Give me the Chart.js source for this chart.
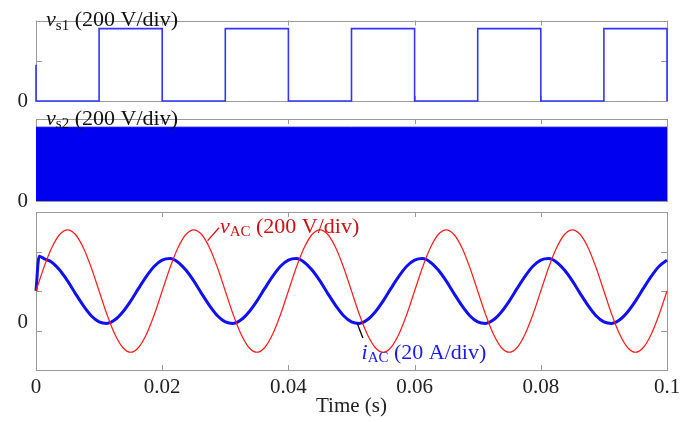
<!DOCTYPE html>
<html lang="en">
<head>
<meta charset="UTF-8">
<title>Converter waveforms</title>
<script src="https://cdn.jsdelivr.net/npm/chart.js"></script>
<style>
body { margin: 0; background: #fff; }
.wrap { position: relative; width: 686px; height: 422px; }
.wrap canvas { position: absolute; left: 0; top: 0; }
</style>
</head>
<body>
<div class="wrap">
    <canvas id="vs1Chart" width="686" height="422"></canvas>
    <canvas id="vs2Chart" width="686" height="422"></canvas>
    <canvas id="acChart" width="686" height="422"></canvas>
</div>
<script>
// ---- data ----
const timeTicks = [0, 0.02, 0.04, 0.06, 0.08, 0.1];
const voltTicks = [0, 200, 400];            // 200 V/div, panels 1 and 2
const acVoltTicks = [-200, 0, 200, 400, 600]; // panel 3

// vs1: square wave, 0 / 360 V
const vs1Times  = [0, 0, 0.01, 0.01, 0.02, 0.02, 0.03, 0.03, 0.04, 0.04, 0.05, 0.05, 0.06, 0.06, 0.07, 0.07, 0.08, 0.08, 0.09, 0.09, 0.1, 0.1];
const vs1Values = [180, 0, 0, 360, 360, 0, 0, 360, 360, 0, 0, 360, 360, 0, 0, 360, 360, 0, 0, 360, 360, 0];

// vs2: fast switching, envelope 0..360 V (looks solid)
const vs2Times  = [0, 0.1];
const vs2Values = [360, 360];

// vAC (V) sampled every 1.25 ms
const acStep = 0.00125;
const vacValues = [
    200, 319, 419, 486, 510, 486, 419, 319, 200, 81, -19, -86, -110, -86, -19, 81,
    200, 319, 419, 486, 510, 486, 419, 319, 200, 81, -19, -86, -110, -86, -19, 81,
    200, 319, 419, 486, 510, 486, 419, 319, 200, 81, -19, -86, -110, -86, -19, 81,
    200, 319, 419, 486, 510, 486, 419, 319, 200, 81, -19, -86, -110, -86, -19, 81,
    200, 319, 419, 486, 510, 486, 419, 319, 200, 81, -19, -86, -110, -86, -19, 81,
    200
];

// iAC (A): start transient then same 1.25 ms samples
const iacStartTimes  = [0, 0.0005];
const iacStartValues = [20, 37.6];
const iacValues = [
    36.4, 34.6, 30.6, 25.1, 18.7, 12.6, 7.5, 4.4, 3.6, 5.4, 9.4, 14.9, 21.3, 27.4, 32.5, 35.6,
    36.4, 34.6, 30.6, 25.1, 18.7, 12.6, 7.5, 4.4, 3.6, 5.4, 9.4, 14.9, 21.3, 27.4, 32.5, 35.6,
    36.4, 34.6, 30.6, 25.1, 18.7, 12.6, 7.5, 4.4, 3.6, 5.4, 9.4, 14.9, 21.3, 27.4, 32.5, 35.6,
    36.4, 34.6, 30.6, 25.1, 18.7, 12.6, 7.5, 4.4, 3.6, 5.4, 9.4, 14.9, 21.3, 27.4, 32.5, 35.6,
    36.4, 34.6, 30.6, 25.1, 18.7, 12.6, 7.5, 4.4, 3.6, 5.4, 9.4, 14.9, 21.3, 27.4, 32.5, 35.6
];

// ---- build point lists ----
function toPoints(xs, ys) {
    return ys.map((y, i) => ({ x: xs[i], y: y }));
}
const vacPoints = vacValues.map((v, i) => ({ x: i * acStep, y: v }));
const iacPoints = toPoints(iacStartTimes, iacStartValues)
    .concat(iacValues.map((v, i) => ({ x: (i + 1) * acStep, y: v })));

const SERIF = '"Liberation Serif", "Times New Roman", serif';
const W = 686, H = 422;
const PLOT_RIGHT = 19; // space right of the boxes

// frame + inward ticks (matlab style box)
const framePlugin = {
    id: 'frame',
    beforeDatasetsDraw(chart) {
        const ctx = chart.ctx, a = chart.chartArea;
        const x = chart.scales.x, y = chart.scales.y;
        const yt = chart.options.plugins.frame.yTicks;
        ctx.save();
        ctx.strokeStyle = '#9a9a9a';
        ctx.lineWidth = 1;
        ctx.strokeRect(Math.round(a.left) + 0.5, Math.round(a.top) + 0.5, Math.round(a.width), Math.round(a.height));
        ctx.beginPath();
        timeTicks.forEach(t => {
            const px = Math.round(x.getPixelForValue(t)) + 0.5;
            ctx.moveTo(px, a.bottom); ctx.lineTo(px, a.bottom - 5);
            ctx.moveTo(px, a.top); ctx.lineTo(px, a.top + 5);
        });
        yt.forEach(v => {
            const py = Math.round(y.getPixelForValue(v)) + 0.5;
            ctx.moveTo(a.left, py); ctx.lineTo(a.left + 6, py);
            ctx.moveTo(a.right, py); ctx.lineTo(a.right - 6, py);
        });
        ctx.stroke();
        ctx.restore();
    },
    afterDatasetsDraw(chart) {
        const ctx = chart.ctx;
        const opts = chart.options.plugins.frame;
        ctx.save();
        (opts.leaders || []).forEach(l => {
            const sx = chart.scales.x, sy = chart.scales[l.axis];
            ctx.strokeStyle = l.color;
            ctx.lineWidth = 1.3;
            ctx.beginPath();
            ctx.moveTo(sx.getPixelForValue(l.from[0]), sy.getPixelForValue(l.from[1]));
            ctx.lineTo(sx.getPixelForValue(l.to[0]), sy.getPixelForValue(l.to[1]));
            ctx.stroke();
        });
        (opts.labels || []).forEach(lab => {
            const sx = chart.scales.x, sy = chart.scales[lab.axis];
            let px = sx.getPixelForValue(lab.at[0]);
            const py = sy.getPixelForValue(lab.at[1]);
            ctx.fillStyle = lab.color;
            ctx.textBaseline = 'middle';
            ctx.textAlign = 'left';
            lab.parts.forEach(p => {
                ctx.font = p.font;
                ctx.fillText(p.text, px, py + (p.dy || 0));
                px += ctx.measureText(p.text).width;
            });
        });
        ctx.restore();
    }
};

function titleParts(main, sub, rest) {
    return [
        { text: main, font: 'italic 22px ' + SERIF },
        { text: sub, font: '15px ' + SERIF, dy: 5 },
        { text: rest, font: '22px ' + SERIF }
    ];
}

function zeroOnly(v) {
    return v === 0 ? '0' : '';
}

function yAxis(min, max, labelOffset) {
    return {
        min: min, max: max,
        afterBuildTicks: s => { s.ticks = [min, 0, max].concat([]).filter((v, i, arr) => arr.indexOf(v) === i).map(v => ({ value: v })); },
        afterFit: s => { s.width = 36; },
        grid: { display: false, drawTicks: false },
        border: { display: false },
        ticks: { callback: zeroOnly, padding: 8, labelOffset: labelOffset || 0, color: '#222', font: { family: SERIF, size: 21 } }
    };
}

function hiddenX() {
    return { type: 'linear', min: 0, max: 0.1, display: false };
}

// ---- panel 1 : vs1 ----
new Chart(document.getElementById('vs1Chart'), {
    type: 'line',
    data: {
        datasets: [{
            data: toPoints(vs1Times, vs1Values),
            borderColor: '#3434ff',
            borderWidth: 1.6,
            pointRadius: 0,
            tension: 0,
            clip: 4
        }]
    },
    options: {
        responsive: false, animation: false, devicePixelRatio: 1,
        layout: { padding: { top: 18, bottom: H - 101, right: PLOT_RIGHT, left: 0 } },
        scales: { x: hiddenX(), y: yAxis(0, 400) },
        plugins: {
            legend: { display: false }, tooltip: { enabled: false },
            frame: {
                yTicks: voltTicks,
                labels: [{ axis: 'y', at: [0.0016, 400], color: '#111', parts: titleParts('v', 's1', ' (200 V/div)') }]
            }
        }
    },
    plugins: [framePlugin]
});

// ---- panel 2 : vs2 ----
new Chart(document.getElementById('vs2Chart'), {
    type: 'line',
    data: {
        datasets: [{
            data: toPoints(vs2Times, vs2Values),
            borderColor: '#0000f0',
            backgroundColor: '#0000f0',
            borderWidth: 1,
            fill: 'origin',
            pointRadius: 0,
            tension: 0,
            clip: 2
        }]
    },
    options: {
        responsive: false, animation: false, devicePixelRatio: 1,
        layout: { padding: { top: 119, bottom: H - 201, right: PLOT_RIGHT, left: 0 } },
        scales: { x: hiddenX(), y: yAxis(0, 400) },
        plugins: {
            legend: { display: false }, tooltip: { enabled: false },
            frame: {
                yTicks: voltTicks,
                labels: [{ axis: 'y', at: [0.0016, 400], color: '#111', parts: titleParts('v', 's2', ' (200 V/div)') }]
            }
        }
    },
    plugins: [framePlugin]
});

// ---- panel 3 : vAC and iAC ----
const yAc = yAxis(-200, 600, -8);
yAc.afterBuildTicks = s => { s.ticks = acVoltTicks.map(v => ({ value: v })); };

new Chart(document.getElementById('acChart'), {
    type: 'line',
    data: {
        datasets: [{
            label: 'vAC',
            data: vacPoints,
            yAxisID: 'y',
            borderColor: '#ff1a1a',
            borderWidth: 1.2,
            pointRadius: 0,
            cubicInterpolationMode: 'monotone',
            clip: 3
        }, {
            label: 'iAC',
            data: iacPoints,
            yAxisID: 'y2',
            borderColor: '#1010f0',
            borderWidth: 3,
            pointRadius: 0,
            cubicInterpolationMode: 'monotone',
            clip: 3
        }]
    },
    options: {
        responsive: false, animation: false, devicePixelRatio: 1,
        layout: { padding: { top: 212, bottom: 0, right: PLOT_RIGHT, left: 0 } },
        scales: {
            x: {
                type: 'linear', min: 0, max: 0.1,
                afterBuildTicks: s => { s.ticks = timeTicks.map(v => ({ value: v })); },
                afterFit: s => { s.height = H - 370; },
                grid: { display: false, drawTicks: false },
                border: { display: false },
                ticks: {
                    autoSkip: false, maxRotation: 0, padding: 5, color: '#222',
                    font: { family: SERIF, size: 21 },
                    callback: v => String(+v.toFixed(2))
                },
                title: { display: true, text: 'Time (s)', color: '#222', padding: { top: 0, bottom: 3 }, font: { family: SERIF, size: 21 } }
            },
            y: yAc,
            y2: { position: 'right', min: -20, max: 60, display: false }
        },
        plugins: {
            legend: { display: false }, tooltip: { enabled: false },
            frame: {
                yTicks: acVoltTicks,
                leaders: [
                    { axis: 'y', color: '#c81414', from: [0.0272, 455], to: [0.0290, 520] },
                    { axis: 'y2', color: '#000', from: [0.0509, 3.7], to: [0.0518, -3.8] }
                ],
                labels: [
                    { axis: 'y', at: [0.02915, 522], color: '#cc1010', parts: titleParts('v', 'AC', ' (200 V/div)') },
                    { axis: 'y2', at: [0.0516, -11.4], color: '#1a1ae6', parts: titleParts('i', 'AC', ' (20 A/div)') }
                ]
            }
        }
    },
    plugins: [framePlugin]
});
</script>
</body>
</html>
